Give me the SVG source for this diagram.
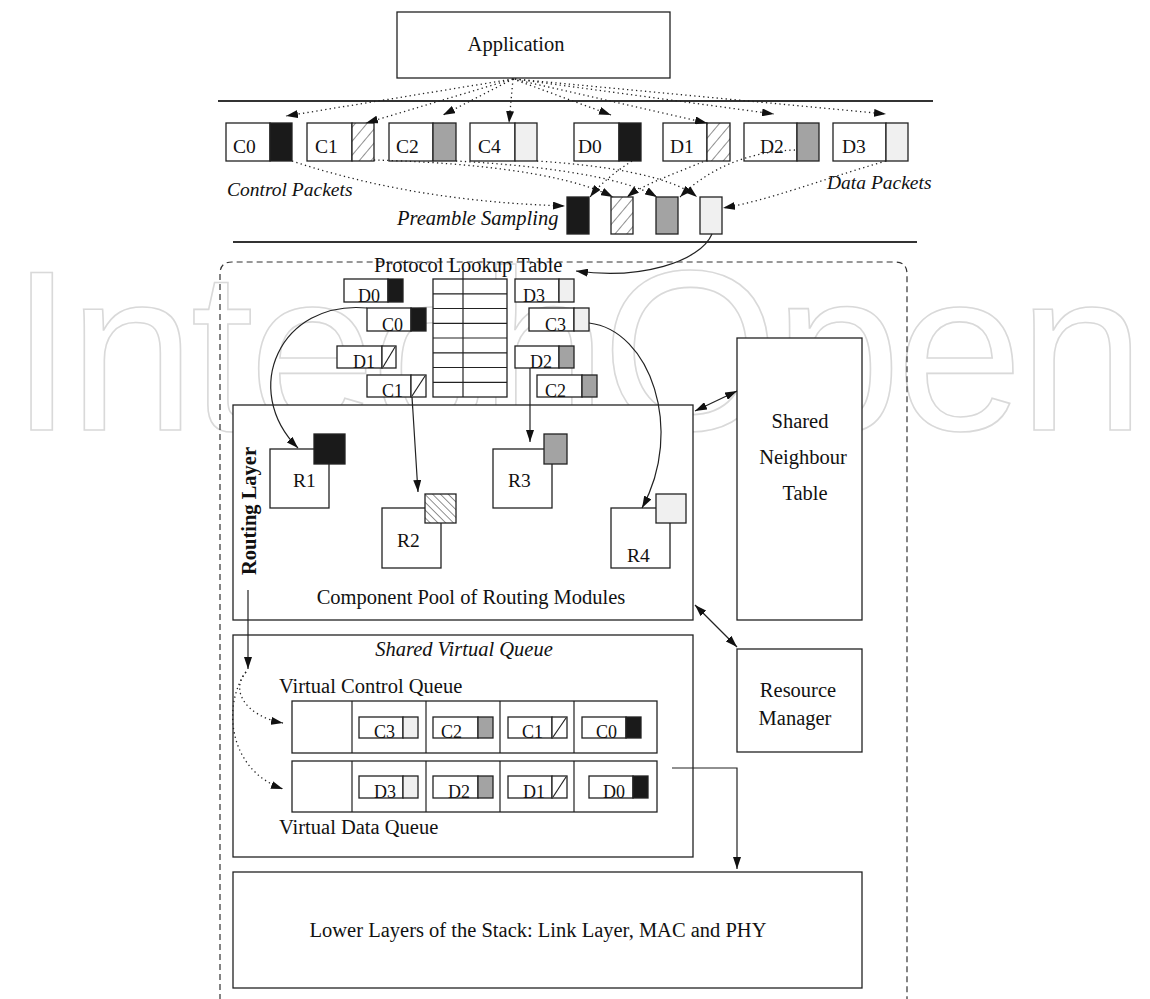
<svg xmlns="http://www.w3.org/2000/svg" width="1150" height="999" viewBox="0 0 1150 999">
<style>
.t{font-family:"Liberation Serif","Times New Roman",serif;fill:#111}
.s18{font-size:18px}
.s19{font-size:19.5px}
.s20{font-size:20.5px}
.it{font-style:italic}
.box{fill:#fff;stroke:#222;stroke-width:1.3}
.blk{fill:#1a1a1a;stroke:#222;stroke-width:1.3}
.gry{fill:#a3a3a3;stroke:#222;stroke-width:1.3}
.lgt{fill:#f0f0f0;stroke:#222;stroke-width:1.3}
.hat{fill:url(#hatch);stroke:#222;stroke-width:1.3}
.hat2{fill:url(#hatch2);stroke:#222;stroke-width:1.3}
.ln{fill:none;stroke:#222;stroke-width:1.2}
.sep{fill:none;stroke:#333;stroke-width:2}
.dot{fill:none;stroke:#222;stroke-width:1.3;stroke-dasharray:1.3 3.2}
.wm{font-family:"Liberation Sans",Arial,sans-serif;font-size:228px;fill:none;stroke:#d9d9d9;stroke-width:1.6}
</style>
<defs>
<pattern id="hatch" width="9" height="9" patternUnits="userSpaceOnUse" patternTransform="rotate(40)">
<rect width="9" height="9" fill="#fff"/><line x1="0" y1="0" x2="0" y2="9" stroke="#222" stroke-width="1"/>
</pattern>
<pattern id="hatch2" width="5.5" height="5.5" patternUnits="userSpaceOnUse" patternTransform="rotate(-45)">
<rect width="5.5" height="5.5" fill="#fff"/><line x1="0" y1="0" x2="0" y2="5.5" stroke="#222" stroke-width="1"/>
</pattern>
<marker id="ah" viewBox="0 0 12 8" refX="12" refY="4" markerWidth="12" markerHeight="8" markerUnits="userSpaceOnUse" orient="auto-start-reverse">
<path d="M0 0 L12 4 L0 8 z" fill="#111"/>
</marker>
</defs>
<rect width="1150" height="999" fill="#fff"/>
<text class="wm" x="10" y="430" textLength="1135" lengthAdjust="spacing">IntechOpen</text>

<!-- separators and container -->
<line class="sep" x1="218" y1="101" x2="933" y2="101"/>
<line class="sep" x1="233" y1="242" x2="917" y2="242"/>
<path d="M220 1010 V274 Q220 262 232 262 H895 Q907 262 907 274 V1010" fill="none" stroke="#333" stroke-width="1.2" stroke-dasharray="6 4"/>

<g id="application">
<rect class="box" x="397" y="12" width="273" height="66"/>
<text class="t s20" x="516" y="51" text-anchor="middle">Application</text>
</g>

<!-- top packet row -->
<g id="pkt-C0"><rect class="box" x="226" y="123" width="44" height="38"/><rect class="blk" x="270" y="123" width="22" height="38"/><text class="t s19" x="233" y="153">C0</text></g>
<g id="pkt-C1"><rect class="box" x="307" y="123" width="45" height="38"/><rect class="hat" x="352" y="123" width="22" height="38"/><text class="t s19" x="315" y="153">C1</text></g>
<g id="pkt-C2"><rect class="box" x="389" y="123" width="44" height="38"/><rect class="gry" x="433" y="123" width="23" height="38"/><text class="t s19" x="396" y="153">C2</text></g>
<g id="pkt-C4"><rect class="box" x="470" y="123" width="45" height="38"/><rect class="lgt" x="515" y="123" width="22" height="38"/><text class="t s19" x="478" y="153">C4</text></g>
<g id="pkt-D0"><rect class="box" x="574" y="123" width="45" height="38"/><rect class="blk" x="619" y="123" width="22" height="38"/><text class="t s19" x="578" y="153">D0</text></g>
<g id="pkt-D1"><rect class="box" x="663" y="123" width="44" height="38"/><rect class="hat" x="707" y="123" width="23" height="38"/><text class="t s19" x="670" y="153">D1</text></g>
<g id="pkt-D2"><rect class="box" x="744" y="123" width="53" height="38"/><rect class="gry" x="797" y="123" width="22" height="38"/><text class="t s19" x="760" y="153">D2</text></g>
<g id="pkt-D3"><rect class="box" x="833" y="123" width="53" height="38"/><rect class="lgt" x="886" y="123" width="22" height="38"/><text class="t s19" x="842" y="153">D3</text></g>

<text class="t s19 it" x="227" y="196">Control Packets</text>
<text class="t s19 it" x="827" y="189">Data Packets</text>

<g id="preamble">
<text class="t s20 it" x="397" y="225">Preamble Sampling</text>
<rect class="blk" x="567" y="197" width="22" height="37"/>
<rect class="hat" x="611" y="197" width="22" height="37"/>
<rect class="gry" x="656" y="197" width="22" height="37"/>
<rect class="lgt" x="700" y="197" width="22" height="37"/>
</g>

<!-- protocol lookup table -->
<g id="lookup-table">
<text class="t s20" x="374" y="272">Protocol Lookup Table</text>
<rect class="box" x="433" y="279" width="74" height="118" fill="none"/>
<line class="ln" x1="463" y1="271" x2="463" y2="397"/>
<path class="ln" d="M433 293.8H507M433 308.5H507M433 323.3H507M433 338H507M433 352.8H507M433 367.5H507M433 382.3H507"/>
</g>
<g id="lt-D0"><rect class="box" x="344" y="279" width="44" height="23"/><rect class="blk" x="388" y="279" width="15" height="23"/><text class="t s18" x="358" y="302">D0</text></g>
<g id="lt-C0"><rect class="box" x="367" y="308" width="44" height="23"/><rect class="blk" x="411" y="308" width="15" height="23"/><text class="t s18" x="382" y="331">C0</text></g>
<g id="lt-D1"><rect class="box" x="337" y="346" width="45" height="22"/><rect class="box" x="382" y="346" width="14" height="22"/><line class="ln" x1="383" y1="367" x2="395" y2="347"/><text class="t s18" x="353" y="368">D1</text></g>
<g id="lt-C1"><rect class="box" x="367" y="375" width="44" height="22"/><rect class="box" x="411" y="375" width="15" height="22"/><line class="ln" x1="412" y1="396" x2="425" y2="376"/><text class="t s18" x="382" y="397">C1</text></g>
<g id="lt-D3"><rect class="box" x="515" y="279" width="44" height="23"/><rect class="lgt" x="559" y="279" width="15" height="23"/><text class="t s18" x="523" y="302">D3</text></g>
<g id="lt-C3"><rect class="box" x="529" y="308" width="45" height="23"/><rect class="lgt" x="574" y="308" width="15" height="23"/><text class="t s18" x="545" y="331">C3</text></g>
<g id="lt-D2"><rect class="box" x="515" y="346" width="44" height="22"/><rect class="gry" x="559" y="346" width="15" height="22"/><text class="t s18" x="530" y="368">D2</text></g>
<g id="lt-C2"><rect class="box" x="537" y="375" width="45" height="22"/><rect class="gry" x="582" y="375" width="15" height="22"/><text class="t s18" x="545" y="397">C2</text></g>

<!-- routing layer -->
<g id="routing-layer">
<rect class="box" x="233" y="405" width="460" height="215"/>
<text class="t s20" font-weight="bold" transform="translate(256 511) rotate(-90)" text-anchor="middle">Routing Layer</text>
<text class="t s20" x="471" y="604" text-anchor="middle">Component Pool of Routing Modules</text>
</g>
<g id="R1"><rect class="box" x="270" y="449" width="59" height="59"/><rect class="blk" x="314" y="434" width="31" height="30"/><text class="t s19" x="293" y="487">R1</text></g>
<g id="R2"><rect class="box" x="382" y="508" width="59" height="60"/><rect class="hat2" x="425" y="494" width="31" height="29"/><text class="t s19" x="397" y="547">R2</text></g>
<g id="R3"><rect class="box" x="493" y="449" width="59" height="59"/><rect class="gry" x="544" y="434" width="23" height="30"/><text class="t s19" x="508" y="487">R3</text></g>
<g id="R4"><rect class="box" x="611" y="508" width="59" height="60"/><rect class="lgt" x="656" y="494" width="30" height="29"/><text class="t s19" x="627" y="562">R4</text></g>

<!-- shared virtual queue -->
<g id="shared-virtual-queue">
<rect class="box" x="233" y="635" width="460" height="222"/>
<text class="t s20 it" x="464" y="656" text-anchor="middle">Shared Virtual Queue</text>
<text class="t s20" x="279" y="693">Virtual Control Queue</text>
<text class="t s20" x="279" y="834">Virtual Data Queue</text>
</g>
<g id="vcq">
<rect class="box" x="292" y="701" width="365" height="52" stroke-width="1.8"/>
<path class="ln" d="M352 701V753M426 701V753M500 701V753M574 701V753"/>
<rect class="box" x="359" y="717" width="44" height="21"/><rect class="lgt" x="403" y="717" width="15" height="21"/><text class="t s18" x="374" y="738">C3</text>
<rect class="box" x="433" y="717" width="45" height="21"/><rect class="gry" x="478" y="717" width="15" height="21"/><text class="t s18" x="441" y="738">C2</text>
<rect class="box" x="508" y="717" width="44" height="21"/><rect class="box" x="552" y="717" width="15" height="21"/><line class="ln" x1="553" y1="737" x2="566" y2="718"/><text class="t s18" x="522" y="738">C1</text>
<rect class="box" x="582" y="717" width="44" height="21"/><rect class="blk" x="626" y="717" width="15" height="21"/><text class="t s18" x="596" y="738">C0</text>
</g>
<g id="vdq">
<rect class="box" x="292" y="761" width="365" height="51" stroke-width="1.8"/>
<path class="ln" d="M352 761V812M426 761V812M500 761V812M574 761V812"/>
<rect class="box" x="359" y="776" width="44" height="22"/><rect class="lgt" x="403" y="776" width="15" height="22"/><text class="t s18" x="374" y="798">D3</text>
<rect class="box" x="433" y="776" width="45" height="22"/><rect class="gry" x="478" y="776" width="15" height="22"/><text class="t s18" x="448" y="798">D2</text>
<rect class="box" x="508" y="776" width="44" height="22"/><rect class="box" x="552" y="776" width="15" height="22"/><line class="ln" x1="553" y1="797" x2="566" y2="777"/><text class="t s18" x="523" y="798">D1</text>
<rect class="box" x="589" y="776" width="44" height="22"/><rect class="blk" x="633" y="776" width="15" height="22"/><text class="t s18" x="603" y="798">D0</text>
</g>

<g id="shared-neighbour-table">
<rect class="box" x="737" y="338" width="125" height="282"/>
<text class="t s20" x="800" y="428" text-anchor="middle">Shared</text>
<text class="t s20" x="803" y="464" text-anchor="middle">Neighbour</text>
<text class="t s20" x="805" y="500" text-anchor="middle">Table</text>
</g>
<g id="resource-manager">
<rect class="box" x="737" y="649" width="125" height="103"/>
<text class="t s20" x="798" y="697" text-anchor="middle">Resource</text>
<text class="t s20" x="795" y="725" text-anchor="middle">Manager</text>
</g>
<g id="lower-layers">
<rect class="box" x="233" y="872" width="629" height="116"/>
<text class="t s20" x="538" y="937" text-anchor="middle">Lower Layers of the Stack: Link Layer, MAC and PHY</text>
</g>

<g id="connectors">
<!-- application to packets -->
<path class="dot" marker-end="url(#ah)" d="M513 79 L286 116"/>
<path class="dot" marker-end="url(#ah)" d="M513 79 L366 123"/>
<path class="dot" marker-end="url(#ah)" d="M513 79 L443 115"/>
<path class="dot" marker-end="url(#ah)" d="M513 79 L509 123"/>
<path class="dot" marker-end="url(#ah)" d="M513 79 L611 115"/>
<path class="dot" marker-end="url(#ah)" d="M513 79 L707 123"/>
<path class="dot" marker-end="url(#ah)" d="M515 79 L774 114"/>
<path class="dot" marker-end="url(#ah)" d="M515 79 L886 114"/>
<!-- packets to preamble -->
<path class="dot" marker-end="url(#ah)" d="M292 161 C380 190 470 203 565 206"/>
<path class="dot" marker-end="url(#ah)" d="M632 161 C615 172 600 184 590 197"/>
<path class="dot" marker-end="url(#ah)" d="M374 160 C450 162 560 170 613 197"/>
<path class="dot" marker-end="url(#ah)" d="M707 160 C680 172 645 183 627 197"/>
<path class="dot" marker-end="url(#ah)" d="M456 161 C530 165 620 175 657 197"/>
<path class="dot" marker-end="url(#ah)" d="M795 150 C760 151 715 162 680 197"/>
<path class="dot" marker-end="url(#ah)" d="M537 161 C600 165 670 175 697 197"/>
<path class="dot" marker-end="url(#ah)" d="M886 161 C820 180 770 200 723 208"/>
<!-- preamble to lookup table -->
<path class="ln" marker-end="url(#ah)" d="M712 234 C700 262 640 280 576 271"/>
<!-- lookup to routing modules -->
<path class="ln" marker-end="url(#ah)" d="M367 308 C280 300 240 390 298 448"/>
<path class="ln" marker-end="url(#ah)" d="M412 397 L418 492"/>
<path class="ln" marker-end="url(#ah)" d="M530 368 L530 442"/>
<path class="ln" marker-end="url(#ah)" d="M589 323 C650 330 685 430 642 508"/>
<!-- routing to queue -->
<path class="ln" marker-end="url(#ah)" d="M248 590 L248 669"/>
<path class="dot" marker-end="url(#ah)" d="M246 672 C230 690 245 716 283 723"/>
<path class="dot" marker-end="url(#ah)" d="M246 672 C222 705 228 770 283 789"/>
<!-- queue to lower layers -->
<path class="ln" marker-end="url(#ah)" d="M672 768 H737 V869"/>
<!-- shared tables -->
<path class="ln" marker-start="url(#ah)" marker-end="url(#ah)" d="M695 411 L737 391"/>
<path class="ln" marker-start="url(#ah)" marker-end="url(#ah)" d="M695 605 L737 647"/>
</g>
</svg>
